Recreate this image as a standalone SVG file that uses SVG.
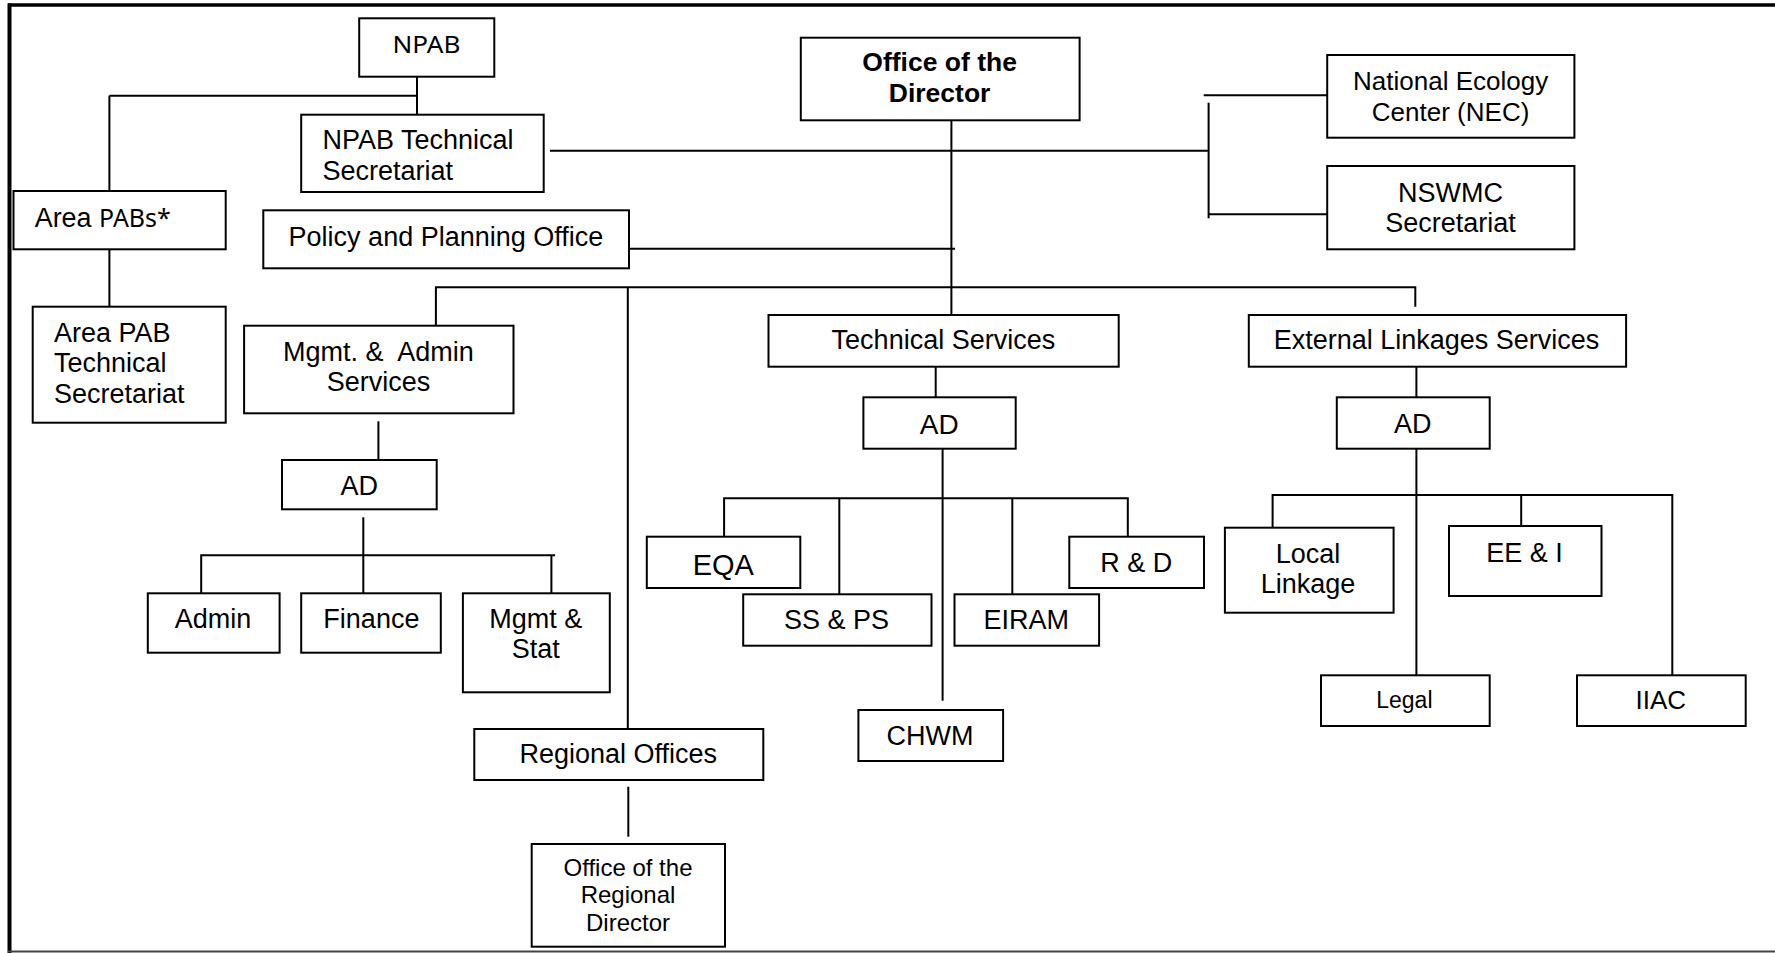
<svg xmlns="http://www.w3.org/2000/svg" width="1775" height="953" viewBox="0 0 1775 953">
<style>
.b{fill:#fff;stroke:#000;stroke-width:2}
.t{font-family:"Liberation Sans",Arial,sans-serif;font-size:27px;fill:#000}
.c{text-anchor:middle}
.bd{font-weight:bold;font-size:26.5px}
.n{font-family:"Noto Sans","Open Sans",sans-serif;font-size:24px;fill:#000}
.ln{fill:none;stroke:#000;stroke-width:2}
</style>
<rect width="1775" height="953" fill="#fff"/>
<g id="frame">
<line x1="8" y1="5" x2="1775" y2="5" stroke="#000" stroke-width="3.5"/>
<line x1="9.5" y1="3.5" x2="9.5" y2="953" stroke="#000" stroke-width="4"/>
<line x1="8" y1="951.5" x2="1775" y2="951.5" stroke="#444" stroke-width="2"/>
</g>
<g id="connectors" class="ln">
<path d="M417,77 V114.7"/>
<path d="M109.4,95.7 H417"/>
<path d="M109.4,95.7 V191"/>
<path d="M550,150.7 H1208.6"/>
<path d="M951.4,114 V316"/>
<path d="M1208.6,102.7 V218.3"/>
<path d="M1203.7,95.3 H1327"/>
<path d="M1208.6,214.3 H1327"/>
<path d="M629,248.7 H955"/>
<path d="M435.9,325.7 V287.3 H1415.3 V306.7"/>
<path d="M627.8,287.3 V729"/>
<path d="M109.4,249.3 V306.7"/>
<path d="M378.4,421.3 V460"/>
<path d="M363.3,517.3 V596"/>
<path d="M201.2,603.3 V555.3 H555.1"/>
<path d="M551.4,555.3 V596"/>
<path d="M935.7,364 V397.3"/>
<path d="M942.6,448.7 V700.7"/>
<path d="M724.1,536.7 V498.3 H1127.8 V536.7"/>
<path d="M839.3,498.3 V594.3"/>
<path d="M1012.3,498.3 V600.7"/>
<path d="M1416.4,365 V397.3"/>
<path d="M1416.4,448.7 V684"/>
<path d="M1272.6,527.7 V495 H1672.3 V681.7"/>
<path d="M1521.2,495 V529.3"/>
<path d="M628.3,786.7 V836.7"/>
</g>
<g id="npab"><rect class="b" x="359.2" y="18.3" width="135.1" height="58.4"/><text class="n c" x="426.5" y="53.3" textLength="68" lengthAdjust="spacingAndGlyphs">NPAB</text></g>
<g id="npab-tech"><rect class="b" x="301.2" y="114.7" width="242.5" height="77.3"/><text class="t" x="322.4" y="149.3">NPAB Technical</text><text class="t" x="322.4" y="180">Secretariat</text></g>
<g id="area-pabs"><rect class="b" x="13.5" y="191" width="212.2" height="58.3"/><text class="t" x="34.7" y="226.7" textLength="136" lengthAdjust="spacingAndGlyphs">Area <tspan class="n" style="font-size:25px">PABs*</tspan></text></g>
<g id="area-pab-tech"><rect class="b" x="32.7" y="306.7" width="193" height="116"/><text class="t" x="53.9" y="341.7">Area PAB</text><text class="t" x="53.9" y="372.3">Technical</text><text class="t" x="53.9" y="402.7">Secretariat</text></g>
<g id="policy"><rect class="b" x="263.3" y="210.3" width="365.7" height="58"/><text class="t" x="288.6" y="246">Policy and Planning Office</text></g>
<g id="director"><rect class="b" x="800.8" y="37.7" width="278.8" height="82.6"/><text class="t c bd" x="939.6" y="71">Office of the</text><text class="t c bd" x="939.6" y="101.7">Director</text></g>
<g id="nec"><rect class="b" x="1327.2" y="55" width="247.2" height="82.7"/><text class="t c" x="1450.6" y="90" style="font-size:26px">National Ecology</text><text class="t c" x="1450.6" y="120.7" style="font-size:26px">Center (NEC)</text></g>
<g id="nswmc"><rect class="b" x="1327.2" y="166" width="247.2" height="83.3"/><text class="t c" x="1450.6" y="201.7">NSWMC</text><text class="t c" x="1450.6" y="231.7">Secretariat</text></g>
<g id="mgmt-admin"><rect class="b" x="244.1" y="325.7" width="269.4" height="87.6"/><text class="t c" x="378.4" y="361">Mgmt. &amp;&#160; Admin</text><text class="t c" x="378.4" y="391">Services</text></g>
<g id="ad-mgmt"><rect class="b" x="282" y="460" width="154.7" height="49.3"/><text class="t c" x="359.2" y="495">AD</text></g>
<g id="admin"><rect class="b" x="147.8" y="593.3" width="131.8" height="59.4"/><text class="t c" x="212.9" y="628.3">Admin</text></g>
<g id="finance"><rect class="b" x="301.2" y="593.3" width="139.6" height="59.4"/><text class="t c" x="371.4" y="628.3">Finance</text></g>
<g id="mgmt-stat"><rect class="b" x="462.9" y="593.3" width="146.9" height="99"/><text class="t c" x="535.7" y="628.3">Mgmt &amp;</text><text class="t c" x="535.7" y="658.3">Stat</text></g>
<g id="tech-services"><rect class="b" x="768.5" y="315" width="350.2" height="51.7"/><text class="t c" x="943.4" y="349.3">Technical Services</text></g>
<g id="ad-tech"><rect class="b" x="863.4" y="397.3" width="152.3" height="51.4"/><text class="t c" x="939.2" y="434.3" style="font-size:28px">AD</text></g>
<g id="eqa"><rect class="b" x="646.8" y="536.7" width="153.5" height="51.3"/><text class="t c" x="723.3" y="575" style="font-size:29px">EQA</text></g>
<g id="ssps"><rect class="b" x="743.2" y="594.3" width="188.3" height="51.4"/><text class="t c" x="836.6" y="629.3">SS &amp; PS</text></g>
<g id="eiram"><rect class="b" x="954.5" y="594.3" width="144.6" height="51.4"/><text class="t c" x="1026.2" y="629.3">EIRAM</text></g>
<g id="rd"><rect class="b" x="1069.3" y="536.7" width="134.7" height="51.3"/><text class="t c" x="1136.2" y="571.7">R &amp; D</text></g>
<g id="chwm"><rect class="b" x="858.4" y="710" width="144.7" height="51"/><text class="t c" x="930" y="745">CHWM</text></g>
<g id="ext-services"><rect class="b" x="1248.8" y="315" width="377.3" height="51.7"/><text class="t c" x="1436.5" y="349.3">External Linkages Services</text></g>
<g id="ad-ext"><rect class="b" x="1336.8" y="397.3" width="152.9" height="51.4"/><text class="t c" x="1412.7" y="432.7">AD</text></g>
<g id="local-linkage"><rect class="b" x="1224.9" y="527.7" width="168.7" height="85"/><text class="t c" x="1308" y="562.7">Local</text><text class="t c" x="1308" y="592.7">Linkage</text></g>
<g id="eei"><rect class="b" x="1449" y="526" width="152.5" height="70"/><text class="t c" x="1524.5" y="561.7">EE &amp; I</text></g>
<g id="legal"><rect class="b" x="1321" y="675.3" width="168.7" height="50.7"/><text class="t c" x="1404.4" y="707.7" style="font-size:23px">Legal</text></g>
<g id="iiac"><rect class="b" x="1577" y="675.3" width="168.7" height="50.7"/><text class="t c" x="1660.8" y="709" style="font-size:26px">IIAC</text></g>
<g id="regional-offices"><rect class="b" x="474.3" y="729" width="289" height="51"/><text class="t c" x="618.3" y="762.7">Regional Offices</text></g>
<g id="regional-director"><rect class="b" x="531.7" y="844" width="193.3" height="102.7"/><text class="t c" x="628" y="876" style="font-size:24px">Office of the</text><text class="t c" x="628" y="903.3" style="font-size:24px">Regional</text><text class="t c" x="628" y="930.7" style="font-size:24px">Director</text></g>
</svg>
